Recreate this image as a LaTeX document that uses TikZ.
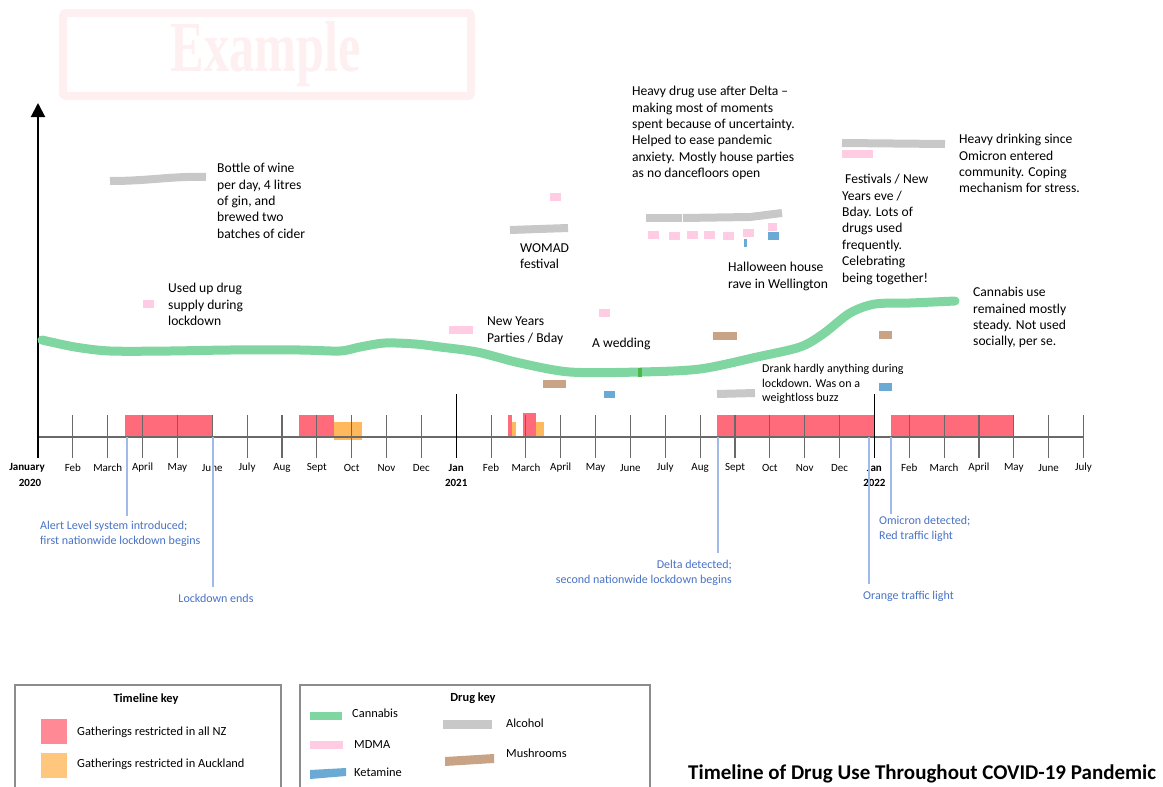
\documentclass[tikz,border=0pt]{standalone}
\usepackage{fontspec}
\setmainfont{Carlito}
\newfontfamily\stampfont{Liberation Serif}
\usetikzlibrary{arrows.meta}
\definecolor{nzred}{RGB}{255,107,122}
\definecolor{aklorange}{RGB}{255,184,92}
\definecolor{cannabis}{RGB}{128,214,160}
\definecolor{mdma}{RGB}{255,204,228}
\definecolor{ketamine}{RGB}{108,170,214}
\definecolor{alcohol}{RGB}{200,200,200}
\definecolor{shrooms}{RGB}{200,163,133}
\definecolor{eventline}{RGB}{160,186,234}
\definecolor{eventtext}{RGB}{72,114,196}
\definecolor{stamp}{RGB}{254,240,240}
\definecolor{axisgrey}{RGB}{105,105,105}
\definecolor{keyframe}{RGB}{140,140,140}
\newcommand{\mon}{34.85}
\begin{document}
\begin{tikzpicture}[x=1pt, y=-1pt,
  note/.style={anchor=north west, align=left, inner sep=0, font=\fontsize{13.6}{16.4}\selectfont},
  month/.style={inner sep=0, font=\fontsize{11}{13}\selectfont},
  event/.style={inner sep=0, text=eventtext, font=\fontsize{12}{14.8}\selectfont},
  eventrule/.style={eventline, line width=1.2},
  keytext/.style={anchor=west, inner sep=0, font=\fontsize{12.4}{14}\selectfont},
  keyhead/.style={inner sep=0, font=\fontsize{12.4}{14}\selectfont\bfseries},
  drugline/.style={line width=8},
]
\useasboundingbox (0,0) rectangle (1163,787);
% watermark
\draw[stamp, line width=8, rounded corners=3] (63,13) rectangle (471,96);
\node[text=stamp, inner sep=0] (stampword) at (266,54) {\scalebox{0.7}[1]{\stampfont\bfseries\fontsize{72}{72}\selectfont Example}};
% restrictions
\fill[nzred] (125,415) rectangle (212,437);
\fill[nzred] (299,415) rectangle (334,437);
\fill[nzred] (508,415) rectangle (512,437);
\fill[nzred] (523,413) rectangle (536,437);
\fill[nzred] (717,415) rectangle (874,437);
\fill[nzred] (891,415) rectangle (1013,437);
\fill[aklorange] (334,422) rectangle (362,440);
\fill[aklorange] (512,422) rectangle (516,437);
\fill[aklorange] (536,422) rectangle (544,437);
% axes
\draw[axisgrey, line width=1.5] (38,437) -- (38+30*\mon,437);
\foreach \k in {1,...,30} {\draw[axisgrey, line width=1.1] (38+\k*\mon,415) -- (38+\k*\mon,458);}
\draw[black, line width=1.3] (38+12*\mon,394) -- (38+12*\mon,458);
\draw[black, line width=1.8] (38+24*\mon,394) -- (38+24*\mon,458);
\draw[black, line width=2, -{Triangle[length=14, width=14]}] (38,458) -- (38,103);
\foreach \lab [count=\k] in {Feb,March,April,May,June,July,Aug,Sept,Oct,Nov,Dec,\textbf{Jan},Feb,March,April,May,June,July,Aug,Sept,Oct,Nov,Dec,\textbf{Jan},Feb,March,April,May,June,July}
  {\node[month] (m\k) at (38+\k*\mon,468) {\lab};}
\node[month, font=\fontsize{11}{13}\selectfont\bfseries] (m0) at (27,468) {January};
\node[month, font=\fontsize{11}{13}\selectfont\bfseries] (y2020) at (30,483) {2020};
\node[month, font=\fontsize{11}{13}\selectfont\bfseries] (y2021) at (38+12*\mon,483) {2021};
\node[month, font=\fontsize{11}{13}\selectfont\bfseries] (y2022) at (38+24*\mon,483) {2022};
% events
\coordinate (alertAt) at (127,437);
\coordinate (endsAt) at (213,437);
\coordinate (deltaAt) at (718,437);
\coordinate (orangeAt) at (869,437);
\coordinate (omicronAt) at (891,437);
\node[event, anchor=north west, align=left] (alert) at (40,521) {Alert Level system introduced;\\first nationwide lockdown begins};
\node[event, anchor=north] (ends) at (216,594) {Lockdown ends};
\node[event, anchor=north east, align=right] (delta) at (732,560) {Delta detected;\\second nationwide lockdown begins};
\node[event, anchor=north west] (orange) at (863,591) {Orange traffic light};
\node[event, anchor=north west, align=left] (omicron) at (879,516) {Omicron detected;\\Red traffic light};
\draw[eventrule, shorten >=5] (alertAt) -- (alertAt |- alert.north);
\draw[eventrule, shorten >=7] (endsAt) -- (endsAt |- ends.north);
\draw[eventrule, shorten >=7] (deltaAt) -- (deltaAt |- delta.north);
\draw[eventrule, shorten >=7] (orangeAt) -- (orangeAt |- orange.north);
\draw[eventrule, shorten >=2] (omicronAt) -- (omicronAt |- omicron.north);
% cannabis
\draw[cannabis, line width=9, line cap=round, line join=round] plot[smooth, tension=0.5] coordinates {(42,340) (75,347) (110,351) (170,351) (230,350) (300,350) (340,351) (360,347) (385,343) (415,344) (440,347) (477,352) (520,363) (570,372) (640,372) (700,369) (757,357) (800,347) (823,334) (850,313) (875,304) (910,303) (955,301)};
\fill[green!60!black!70] (638,367.5) rectangle (642,376.5);
% alcohol
\draw[alcohol, drugline] (110,181) .. controls (150,181) and (170,176) .. (206,177);
\draw[alcohol, drugline] (510,230) -- (568,228);
\draw[alcohol, drugline] (646,218) -- (682,218);
\draw[alcohol, drugline] (683,218) -- (750,217) -- (782,213);
\draw[alcohol, drugline] (717,394) -- (755,393);
\draw[alcohol, drugline] (842,143) -- (945,144);
% mdma
\fill[mdma] (143,300) rectangle (154,308);
\fill[mdma] (449,326) rectangle (473,334);
\fill[mdma] (550,193) rectangle (561,201);
\fill[mdma] (599,309) rectangle (610,317);
\foreach \a/\b in {648/231,669/232,687/231,704/231,723/232,743/229}
  {\fill[mdma] (\a,\b) rectangle (\a+11,\b+8);}
\fill[mdma] (768,223) rectangle (777,231);
\fill[mdma] (842,150) rectangle (873,158);
% mushrooms
\fill[shrooms] (543,380) rectangle (566,388);
\fill[shrooms] (713,332) rectangle (737,340);
\fill[shrooms] (879,331) rectangle (892,339);
% ketamine
\fill[ketamine] (604,391) rectangle (615,398);
\fill[ketamine] (744,239) rectangle (747,247);
\fill[ketamine] (768,232) rectangle (779,240);
\fill[ketamine] (879,383) rectangle (892,391);
% notes
\node[note] (wine) at (217,163) {Bottle of wine\\per day, 4 litres\\of gin, and\\brewed two\\batches of cider};
\node[note] (usedup) at (168,283) {Used up drug\\supply during\\lockdown};
\node[note] (newyears) at (487,317) {New Years\\Parties / Bday};
\node[note] (womad) at (520,243) {WOMAD\\festival};
\node[note] (wedding) at (592,338) {A wedding};
\node[note] (heavyuse) at (632,86) {Heavy drug use after Delta --\\making most of moments\\spent because of uncertainty.\\Helped to ease pandemic\\anxiety. Mostly house parties\\as no dancefloors open};
\node[note] (halloween) at (728,262) {Halloween house\\rave in Wellington};
\node[note, font=\fontsize{12}{14.7}\selectfont] (drank) at (762,364) {Drank hardly anything during\\lockdown. Was on a\\weightloss buzz};
\node[note] (festivals) at (842,174) {\hspace{3pt}Festivals / New\\Years eve /\\Bday. Lots of\\drugs used\\frequently.\\Celebrating\\being together!};
\node[note] (drinking) at (959,134) {Heavy drinking since\\Omicron entered\\community. Coping\\mechanism for stress.};
\node[note] (steady) at (973,287) {Cannabis use\\remained mostly\\steady. Not used\\socially, per se.};
% keys
\draw[keyframe, line width=1.5] (15,800) |- (281,685) -- (281,800);
\node[keyhead] (tkey) at (146,699) {Timeline key};
\fill[nzred!80] (41,719) rectangle (67,744);
\fill[aklorange!80] (41,753) rectangle (67,778);
\node[keytext] (knz) at (77,732) {Gatherings restricted in all NZ};
\node[keytext] (kakl) at (77,764) {Gatherings restricted in Auckland};
\draw[keyframe, line width=1.5] (300,800) |- (650,685) -- (650,800);
\node[keyhead] (dkey) at (473,698) {Drug key};
\fill[cannabis] (310,712) rectangle (342,720);
\fill[mdma] (310,741) rectangle (343,749);
\fill[ketamine] (310,770) -- (346,768) -- (346,776) -- (310,779) -- cycle;
\fill[alcohol] (443,720) rectangle (492,729);
\fill[shrooms] (445,757) -- (494,754) -- (494,763) -- (445,766) -- cycle;
\node[keytext] (kcan) at (352,713) {Cannabis};
\node[keytext] (kmdma) at (354,745) {MDMA};
\node[keytext] (kket) at (354,772) {Ketamine};
\node[keytext] (kalc) at (506,723) {Alcohol};
\node[keytext] (kmush) at (506,753) {Mushrooms};
\node[anchor=west, inner sep=0, font=\fontsize{21}{24}\selectfont\bfseries] (title) at (688,774) {Timeline of Drug Use Throughout COVID-19 Pandemic};
\end{tikzpicture}
\end{document}
